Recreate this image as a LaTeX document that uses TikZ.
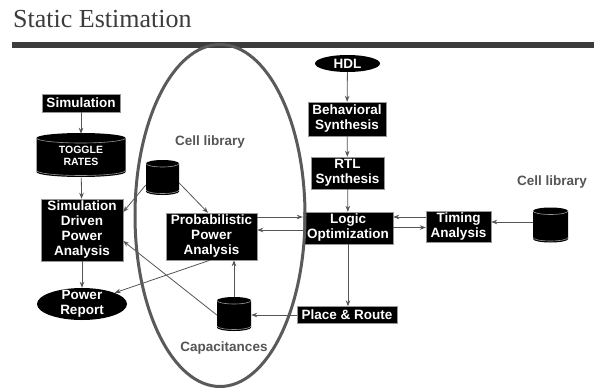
\documentclass[tikz,border=0pt]{standalone}
\usepackage{fontspec}
\setmainfont{Liberation Serif}
\setsansfont{Liberation Sans}
\usetikzlibrary{shapes.geometric,arrows.meta,calc}
\definecolor{ln}{RGB}{85,85,85}
\definecolor{ttl}{RGB}{60,60,60}
\definecolor{rim}{RGB}{150,150,150}
\definecolor{ring}{RGB}{90,90,90}
\tikzset{
 box/.style={fill=black, draw=rim, line width=0.4pt, text=white, font=\sffamily\bfseries\fontsize{13.5}{15}\selectfont, align=center, inner sep=0pt},
 arr/.style={draw=ln, line width=0.8pt, -{Stealth[length=6pt,width=4.5pt]}},
 glabel/.style={text=ln, font=\sffamily\bfseries\fontsize{13.5}{15}\selectfont, inner sep=0pt},
 oval/.style={ellipse, fill=black, inner sep=0pt},
 ovaltext/.style={text=white, font=\sffamily\bfseries\fontsize{13.5}{15}\selectfont, align=center, inner sep=0pt},
 cylnode/.style={inner sep=0pt, align=center, text=white},
}
\newcommand\drawcyl[5]{%
  \fill[black] (#1-#3/2,#2-#4/2+#5) arc[start angle=180,end angle=360,x radius=#3/2,y radius=#5] -- (#1+#3/2,#2+#4/2-#5) arc[start angle=0,end angle=180,x radius=#3/2,y radius=#5] -- cycle;
  \draw[rim, line width=0.6pt] (#1-#3/2,#2-#4/2+#5) arc[start angle=180,end angle=0,x radius=#3/2,y radius=#5];
  \draw[rim, line width=0.6pt] (#1-#3/2,#2+#4/2-#5-1.5) arc[start angle=180,end angle=0,x radius=#3/2,y radius=#5];
}
\begin{document}
\begin{tikzpicture}[x=1pt,y=1pt,yscale=-1]
\useasboundingbox (0,0) rectangle (594,391);
\fill[white] (0,0) rectangle (594,391);
% title and rule
\node[anchor=base west, inner sep=0pt, text=ttl, font=\fontsize{26}{30}\selectfont] (title) at (13,27) {Static Estimation};
\fill[ttl] (12,42) rectangle (594,47.5);

% left column
\node[box, minimum width=78pt, minimum height=18pt] (sim) at (81,103) {Simulation};
\drawcyl{81}{155}{89}{44}{5}
\node[cylnode, minimum width=89pt, minimum height=44pt, font=\sffamily\bfseries\fontsize{10.5}{12}\selectfont] (toggle) at (81,156) {TOGGLE\\RATES};
\node[box, minimum width=82pt, minimum height=62pt] (sdpa) at (82,230) {Simulation\\Driven\\Power\\Analysis};
\node[oval, minimum width=90pt, minimum height=32pt, label={[ovaltext]center:Power\\Report}] (pr) at (82,304) {};

% inside ellipse
\node[glabel] (cl1) at (210,142) {Cell library};
\drawcyl{162.5}{177.5}{33}{35}{3.5}
\node[cylnode, minimum width=33pt, minimum height=35pt] (cyl1) at (162.5,177.5) {};
\node[box, minimum width=91pt, minimum height=47pt] (prob) at (211.5,236.5) {Probabilistic\\Power\\Analysis};
\drawcyl{234}{314}{34}{34}{3.5}
\node[cylnode, minimum width=34pt, minimum height=34pt] (cap) at (234,314) {};
\node[glabel] (capl) at (224,348) {Capacitances};

% synthesis column
\node[oval, minimum width=65pt, minimum height=17pt, label={[ovaltext]center:HDL}] (hdl) at (347.5,63.5) {};
\node[box, minimum width=78pt, minimum height=34pt] (beh) at (347,119) {Behavioral\\Synthesis};
\node[box, minimum width=73pt, minimum height=32pt] (rtl) at (347.5,173) {RTL\\Synthesis};
\node[box, minimum width=90pt, minimum height=32pt] (logic) at (348,228) {Logic\\Optimization};
\node[box, minimum width=100pt, minimum height=17pt] (pnr) at (347,315) {Place \& Route};

% right side
\node[box, minimum width=65pt, minimum height=31pt] (timing) at (458.5,226.5) {Timing\\Analysis};
\node[glabel, anchor=west] (cl2) at (517,182.5) {Cell library};
\drawcyl{550.5}{225}{35}{35}{3.5}
\node[cylnode, minimum width=35pt, minimum height=35pt] (cyl3) at (550.5,225) {};

% connectors
\draw[arr] (sim) -- (toggle);
\draw[arr] (toggle) -- (sdpa);
\draw[arr] (sdpa) -- (pr);
\draw[arr] (cyl1.east |- 0,183) -- (prob.north -| 208,0);
\draw[arr] (cyl1.west |- 0,185) -- (sdpa.east |- 0,212);
\draw[arr] (cap.west |- 0,315) -- (sdpa.east |- 0,241);
\draw[arr] (prob.south -| 210,0) -- (pr);
\draw[arr] (cap.north) -- (prob.south -| cap.north);
\draw[arr] (pnr.west) -- (cap.east |- pnr.west);
\draw[arr] (logic.south) -- (logic.south |- pnr.north);
\draw[arr] (hdl) -- (beh);
\draw[arr] (beh) -- (rtl);
\draw[arr] (rtl) -- (logic);
\draw[arr] (prob.east |- 0,217) -- (logic.west |- 0,217);
\draw[arr] (logic.west |- 0,230) -- (prob.east |- 0,230);
\draw[arr] (timing.west |- 0,217) -- (logic.east |- 0,217);
\draw[arr] (logic.east |- 0,227.5) -- (timing.west |- 0,227.5);
\draw[arr] (cyl3.west |- 0,222) -- (timing.east |- 0,222);

% big ellipse
\draw[ring, line width=3pt] (220,215.5) ellipse [x radius=85, y radius=171];
\end{tikzpicture}
\end{document}
